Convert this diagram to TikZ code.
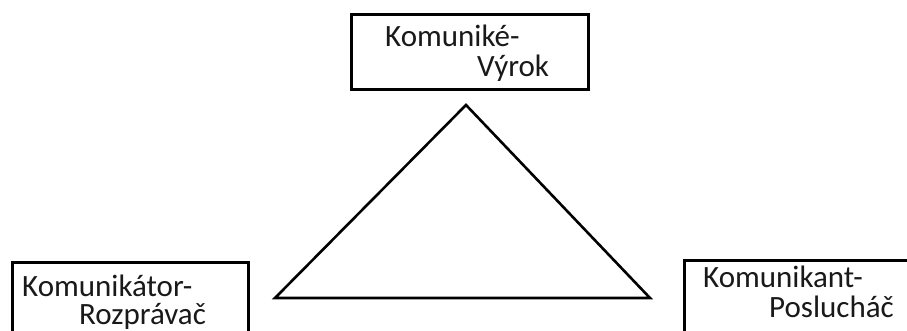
\documentclass[tikz,border=0pt]{standalone}
\usepackage{fontspec}
\setmainfont{Carlito}
\begin{document}
\begin{tikzpicture}[x=1pt,y=-1pt,
  box/.style={draw=black,line width=3pt,fill=white},
  lbl/.style={anchor=base west,inner sep=0pt,font=\fontsize{31}{36}\selectfont,text=black!90}]
\clip (0,0) rectangle (907,331);
\fill[white] (0,0) rectangle (907,331);
% boxes
\draw[box] (351,15) rectangle (588,90);
\draw[box] (12,262) rectangle (248,345);
\draw[box] (684,260) rectangle (920,345);
\node[lbl] (t1) at (385,47) {Komuniké-};
\node[lbl] (t2) at (477,77) {Výrok};
\node[lbl] (l1) at (22,296) {Komunikátor-};
\node[lbl] (l2) at (79,324) {Rozprávač};
\node[lbl] (r1) at (703,287) {Komunikant-};
\node[lbl] (r2) at (769,317) {Poslucháč};
% triangle
\coordinate (apex) at (466,105);
\coordinate (bl) at (275,298);
\coordinate (br) at (650,298);
\draw[line width=2.6pt,line join=miter] (apex) -- (bl) -- (br) -- cycle;
\end{tikzpicture}
\end{document}
